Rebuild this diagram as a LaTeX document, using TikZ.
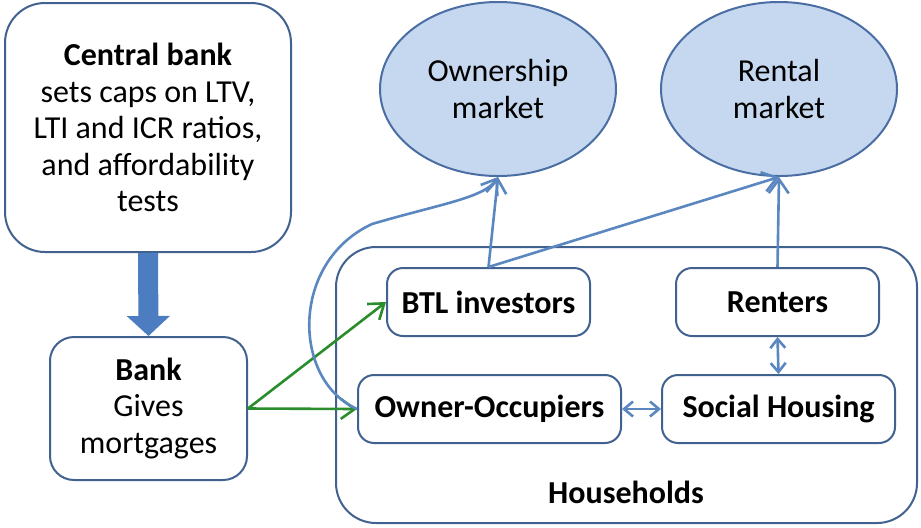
\documentclass[tikz,border=0pt]{standalone}
\usepackage{fontspec}
\setmainfont{Carlito}
\usetikzlibrary{arrows.meta, positioning, shapes.geometric}

\definecolor{boxline}{HTML}{41618F}
\definecolor{mktfill}{HTML}{C6D8EF}
\definecolor{mktline}{HTML}{4A6EA3}
\definecolor{linkblue}{HTML}{5B87C0}
\definecolor{loangreen}{HTML}{2A8C2A}
\definecolor{capblue}{HTML}{4B7DC0}

\begin{document}
\begin{tikzpicture}[x=0.5pt, y=-0.5pt, node distance=144.5pt,
		font=\fontsize{16}{18.3}\selectfont,
		box/.style={draw=boxline, line width=1pt, rounded corners=#1, align=center, inner sep=0pt},
		box/.default=12pt,
		title/.style={font=\fontsize{16}{18.3}\selectfont\bfseries},
		market/.style={ellipse, draw=mktline, fill=mktfill, line width=1pt, align=center,
			minimum width=118pt, minimum height=87pt, inner sep=0pt},
		link/.style={color=linkblue, line width=1.3pt, -{Straight Barb[length=7pt,width=10pt]}},
		swap/.style={color=linkblue, line width=1.3pt, {Straight Barb[length=4.5pt,width=7.5pt]}-{Straight Barb[length=4.5pt,width=7.5pt]}},
		loan/.style={color=loangreen, line width=1.3pt, -{Straight Barb[length=7pt,width=10pt]}}]
				\useasboundingbox (0,0) rectangle (921,527);
				% outer frame for households
				\node[box=20pt, minimum width=290.5pt, minimum height=138pt] (hh) at (626.5,385) {};
				\node[title] (hhlabel) at (626,492) {Households};
				% authorities
				\node[box=20pt, minimum width=143pt, minimum height=124.5pt] (cb) at (148,127.5)
					{\textbf{Central bank}\\sets caps on LTV,\\LTI and ICR ratios,\\and affordability\\tests};
				\node[box, minimum width=98.5pt, minimum height=71.5pt] (bank) at (148.5,408.5)
					{\textbf{Bank}\\Gives\\mortgages};
				% household types
				\node[box=8pt, title, minimum width=101.5pt, minimum height=34pt] (btl) at (488.5,302) {BTL investors};
				\node[box=8pt, title, minimum width=101.5pt, minimum height=34pt, right of=btl] (renters) {Renters};
				\node[box=8pt, title, minimum width=131.5pt, minimum height=34pt] (owner) at (489.5,409) {Owner-Occupiers};
				\node[box=8pt, title, minimum width=116.5pt, minimum height=34pt, right of=owner] (social) {Social Housing};
				% markets
				\node[market] (own) at (498,89) {Ownership\\market};
				\node[market] (rent) at (779,89) {Rental\\market};
				% connectors
				\draw[capblue, line width=10pt, -{Triangle[width=21pt,length=10pt]}] (cb.south) -- (bank.north);
				\path[loan] (bank.east) edge (btl.west)
					(bank.east) edge (owner.west);
				\path[link] (btl.north) edge (own.south)
					(btl.north) edge (rent.south)
					(renters.north) edge (rent.south);
				\path[swap] (renters.south) edge (social.north)
					(owner.east) edge (social.west);
				\draw[link] (owner.west) .. controls (292,380) and (290,262) .. (372,224)
					.. controls (440,204) and (484,198) .. (own.south);
			\end{tikzpicture}
\end{document}
